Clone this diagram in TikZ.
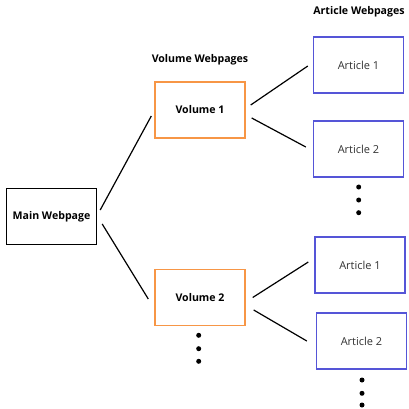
\documentclass[tikz,border=0pt]{standalone}
\usepackage{fontspec}
\setmainfont{Open Sans}
\usetikzlibrary{positioning}
\definecolor{volorange}{RGB}{247,150,70}
\definecolor{artblue}{RGB}{85,85,215}
\definecolor{arttext}{RGB}{50,50,50}

\begin{document}
\begin{tikzpicture}[x=1pt,y=-1pt,
  page/.style={draw,line width=1.4pt,minimum width=90pt,minimum height=56pt,inner sep=0pt},
  mainpage/.style={page,font=\fontsize{10.6}{12}\selectfont\bfseries},
  volpage/.style={page,draw=volorange,font=\fontsize{10.6}{12}\selectfont\bfseries},
  artpage/.style={page,draw=artblue,text=arttext,font=\fontsize{11}{12}\selectfont},
  heading/.style={font=\fontsize{10.6}{12}\selectfont\bfseries},
  dot/.style={circle,fill,inner sep=0pt,minimum size=5pt},
  link/.style={line width=1.2pt}]
\useasboundingbox (0,0) rectangle (408,409);

\node[mainpage] (main) at (51.5,216.5) {Main Webpage};
\node[volpage] (vol1) at (200,110) {Volume 1};
\node[volpage] (vol2) at (200,297.5) {Volume 2};
\node[artpage] (art1) at (358.5,65) {Article 1};
\node[artpage] (art2) at (358.5,149) {Article 2};
\node[artpage] (art3) at (360,265) {Article 1};
\node[artpage] (art4) at (361.5,341) {Article 2};

\node[heading] (volhead) at (200,60) {Volume Webpages};
\node[heading] (arthead) at (359,12) {Article Webpages};

% dots under the pages
\node[dot] (d1) at (358.7,187) {};
\node[dot] (d2) at (358.7,200) {};
\node[dot] (d3) at (358.7,212.7) {};
\node[dot] (d4) at (198.7,335.3) {};
\node[dot] (d5) at (198.7,348.7) {};
\node[dot] (d6) at (198.7,361.3) {};
\node[dot] (d7) at (362,380) {};
\node[dot] (d8) at (362,393.3) {};
\node[dot] (d9) at (362,405) {};

\draw[link] ([shift={(3pt,6.5pt)}]main.east) -- ([shift={(-3pt,-6pt)}]vol1.west);
\draw[link] ([shift={(5pt,-7.5pt)}]main.east) -- ([shift={(-6pt,-1.5pt)}]vol2.west);
\draw[link] ([shift={(5pt,5pt)}]vol1.east) -- ([shift={(-5pt,-1pt)}]art1.west);
\draw[link] ([shift={(6pt,-8pt)}]vol1.east) -- ([shift={(-7pt,2pt)}]art2.west);
\draw[link] ([shift={(7pt,0pt)}]vol2.east) -- ([shift={(-6pt,3pt)}]art3.west);
\draw[link] ([shift={(8pt,-12.5pt)}]vol2.east) -- ([shift={(-9pt,0pt)}]art4.west);
\end{tikzpicture}
\end{document}
